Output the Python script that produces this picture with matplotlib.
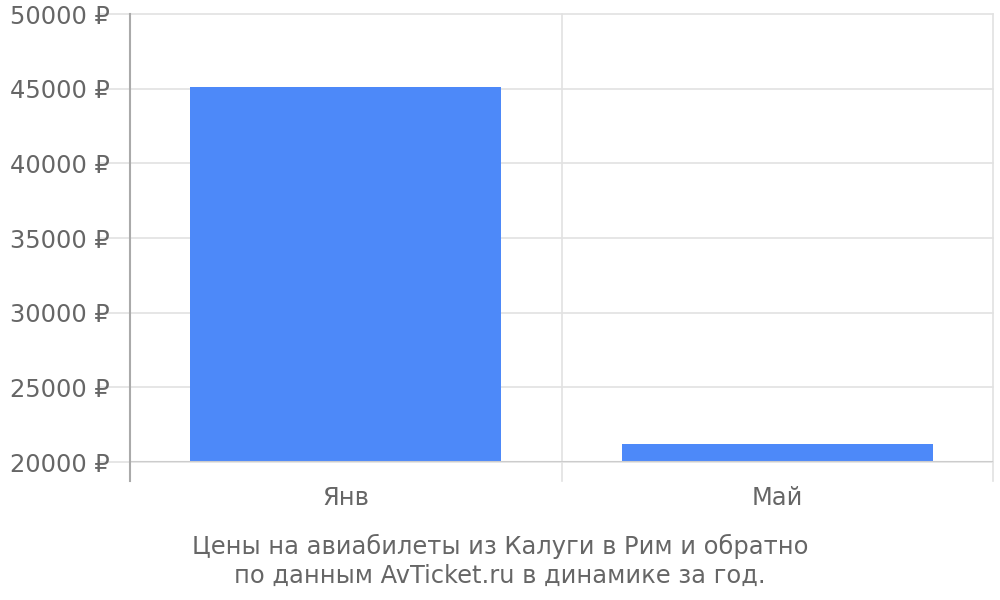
import matplotlib.pyplot as plt

# данные
months = ['Янв', 'Май']
prices = [45100, 21200]
yticks = [20000, 25000, 30000, 35000, 40000, 45000, 50000]
caption = 'Цены на авиабилеты из Калуги в Рим и обратно\nпо данным AvTicket.ru в динамике за год.'

text_color = '#666666'
grid_color = '#e2e2e2'
fs = 17.4

fig = plt.figure(figsize=(10, 6), dpi=100)
ax = fig.add_axes([0.13, 1 - 462 / 600, 0.863, 448 / 600])

x = list(range(len(months)))
ax.bar(x, prices, width=0.72, color='#4d89f9', zorder=3)

ax.set_xlim(-0.5, len(months) - 0.5)
ax.set_ylim(yticks[0], yticks[-1])
ax.set_yticks(yticks)
ax.set_yticklabels([f'{v} ₽' for v in yticks])
ax.set_xticks(x)
ax.set_xticklabels(months)

for s in ax.spines.values():
    s.set_visible(False)

# горизонтальная сетка, выходящая влево за ось
for v in yticks:
    ax.axhline(v, xmin=-30 / 863, xmax=1, color=grid_color, lw=1.2, clip_on=False, zorder=1)
ax.axhline(yticks[0], color='#cccccc', lw=1.5, zorder=4)

# вертикальные линии между категориями
below = -19 / 448
for b in [0.5, 1.5]:
    ax.axvline(b, ymin=below, ymax=1, color=grid_color, lw=1.2, clip_on=False, zorder=1)
ax.axvline(-0.5, ymin=below, ymax=1, color='#aaaaaa', lw=1.5, clip_on=False, zorder=4)

ax.tick_params(axis='y', length=0, pad=14.5, labelsize=fs, labelcolor=text_color)
ax.tick_params(axis='x', length=0, pad=17, labelsize=fs, labelcolor=text_color)

fig.text(0.5, 1 - 561 / 600, caption, ha='center', va='center', fontsize=fs,
         color=text_color, linespacing=1.25)

fig.savefig('out.png', dpi=100)
